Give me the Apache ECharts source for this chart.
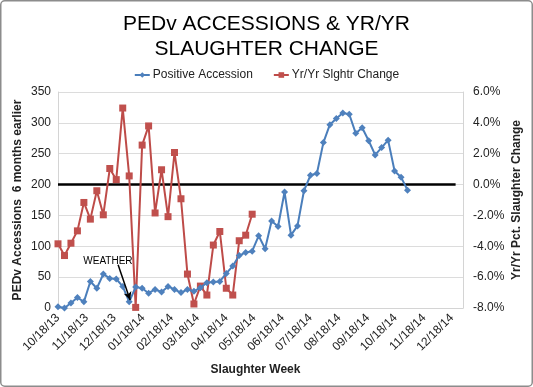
<!DOCTYPE html>
<html>
<head>
<meta charset="utf-8">
<script src="https://cdn.jsdelivr.net/npm/echarts@6/dist/echarts.min.js"></script>
<style>html,body{margin:0;padding:0;background:#fff;}#c{width:533px;height:387px;}</style>
</head>
<body>
<div id="c"></div>
<script>
const tickLabels = ['10/18/13','11/18/13','12/18/13','01/18/14','02/18/14','03/18/14','04/18/14','05/18/14','06/18/14','07/18/14','08/18/14','09/18/14','10/18/14','11/18/14','12/18/14'];
const weekDates = ['10/18/13','10/25/13','11/1/13','11/8/13','11/15/13','11/22/13','11/29/13','12/6/13','12/13/13','12/20/13','12/27/13',
  '1/3/14','1/10/14','1/17/14','1/24/14','1/31/14','2/7/14','2/14/14','2/21/14','2/28/14','3/7/14','3/14/14','3/21/14','3/28/14',
  '4/4/14','4/11/14','4/18/14','4/25/14','5/2/14','5/9/14','5/16/14','5/23/14','5/30/14','6/6/14','6/13/14','6/20/14','6/27/14',
  '7/4/14','7/11/14','7/18/14','7/25/14','8/1/14','8/8/14','8/15/14','8/22/14','8/29/14','9/5/14','9/12/14','9/19/14','9/26/14',
  '10/3/14','10/10/14','10/17/14','10/24/14','10/31/14'];
const positiveAccession = [2,0,8,17,10,43,32,55,48,47,35,10,34,32,24,30,26,35,30,25,30,27,33,41,42,43,56,68,85,90,92,117,96,141,132,188,118,133,190,215,218,268,297,307,316,314,283,292,271,248,260,272,222,212,191];
const slghtrChange = [-3.84,-4.6,-3.8,-3.0,-1.16,-2.24,-0.4,-1.96,1.04,0.32,4.96,0.56,-7.96,2.56,3.8,-1.84,0.96,-2.08,2.08,-0.92,-5.8,-7.74,-6.58,-7.16,-3.92,-3.04,-6.72,-7.16,-3.64,-3.28,-1.92];
const zeroLineDates = ['10/18/13','12/22/14'];
const zeroLineValues = [0,0];
const xRange = ['10/18/13','12/30/14'];
const weatherLabel = {date:'12/11/13', value:76, text:'WEATHER'};
const weatherArrow = {from:['12/22/13',70], to:['1/4/14',13]};

function toTs(s){const p=s.split('/').map(Number);return Date.UTC(2000+p[2],p[0]-1,p[1]);}
const tickValues = tickLabels.map(toTs);
const FONT = 'Liberation Sans, Arial, sans-serif';

const chart = echarts.init(document.getElementById('c'));
chart.setOption({
  animation:false,
  backgroundColor:'#fff',
  textStyle:{fontFamily:FONT},
  title:{
    text:'PEDv ACCESSIONS & YR/YR\nSLAUGHTER CHANGE',
    left:'center', top:7,
    textStyle:{fontFamily:FONT,fontSize:21,lineHeight:25,fontWeight:'normal',color:'#000'}
  },
  legend:{
    data:['Positive Accession','Yr/Yr Slghtr Change'],
    top:64, left:'center', itemWidth:15, itemHeight:7, itemGap:20,
    textStyle:{fontFamily:FONT,fontSize:12,color:'#222',padding:[0,0,0,-2]}
  },
  graphic:[{type:'rect',shape:{x:0.75,y:0.75,width:531.5,height:385.5,r:4},style:{fill:'none',stroke:'#8c8c8c',lineWidth:1.5},silent:true}],
  grid:{left:58,right:70,top:92,bottom:79,containLabel:false},
  xAxis:{
    type:'value', min:toTs(xRange[0]), max:toTs(xRange[1]),
    name:'Slaughter Week', nameLocation:'middle', nameGap:56, nameMoveOverlap:false,
    nameTextStyle:{fontFamily:FONT,fontSize:12,fontWeight:'bold',color:'#222',padding:[0,10,0,0]},
    axisLine:{show:true,lineStyle:{color:'#d4d4d4',width:1}},
    axisTick:{show:false},
    splitLine:{show:false},
    axisLabel:{customValues:tickValues,rotate:45,margin:8,fontSize:12,color:'#222',fontFamily:FONT,
      formatter:function(v){const i=tickValues.indexOf(v);return i>=0?tickLabels[i]:'';}}
  },
  yAxis:[{
    type:'value', min:0, max:350, interval:50, position:'left',
    name:'PEDv Accessions  6 months earlier', nameLocation:'middle', nameGap:34, nameRotate:90, nameMoveOverlap:false,
    nameTextStyle:{fontFamily:FONT,fontSize:12,fontWeight:'bold',color:'#222'},
    axisLine:{show:true,lineStyle:{color:'#d4d4d4'}},
    axisTick:{show:false},
    splitLine:{show:true,lineStyle:{color:'#dcdcdc',width:1}},
    axisLabel:{fontSize:12,color:'#222',margin:7,fontFamily:FONT}
  },{
    type:'value', min:-8, max:6, interval:2, position:'right',
    name:'Yr/Yr Pct. Slaughter Change', nameLocation:'middle', nameGap:48, nameRotate:90, nameMoveOverlap:false,
    nameTextStyle:{fontFamily:FONT,fontSize:12,fontWeight:'bold',color:'#222'},
    axisLine:{show:true,lineStyle:{color:'#d4d4d4'}},
    axisTick:{show:false},
    splitLine:{show:false},
    axisLabel:{fontSize:12,color:'#222',margin:10,fontFamily:FONT,formatter:function(v){return v.toFixed(1)+'%';}}
  }],
  series:[{
    name:'Zero', type:'line', yAxisIndex:1, symbol:'none', silent:true,
    data:zeroLineDates.map(function(d,i){return [toTs(d),zeroLineValues[i]];}),
    lineStyle:{color:'#000',width:2.5}, z:1
  },{
    name:'Positive Accession', type:'line', yAxisIndex:0,
    data:weekDates.map(function(d,i){return [toTs(d),positiveAccession[i]];}),
    symbol:'diamond', symbolSize:7,
    lineStyle:{color:'#4a7ebb',width:2}, itemStyle:{color:'#4f81bd'}, z:3,
    markPoint:{symbol:'circle',symbolSize:1,itemStyle:{color:'rgba(0,0,0,0)'},
      label:{show:true,position:'inside',formatter:weatherLabel.text,color:'#000',fontSize:10,fontFamily:FONT},
      data:[{coord:[toTs(weatherLabel.date),weatherLabel.value]}]},
    markLine:{silent:true,symbol:['none','arrow'],symbolSize:[6,8],
      lineStyle:{color:'#000',width:1.5,type:'solid'},label:{show:false},
      data:[[{coord:[toTs(weatherArrow.from[0]),weatherArrow.from[1]]},{coord:[toTs(weatherArrow.to[0]),weatherArrow.to[1]]}]]}
  },{
    name:'Yr/Yr Slghtr Change', type:'line', yAxisIndex:1,
    data:slghtrChange.map(function(v,i){return [toTs(weekDates[i]),v];}),
    symbol:'rect', symbolSize:7,
    lineStyle:{color:'#be4b48',width:2}, itemStyle:{color:'#c0504d'}, z:2
  }]
});
</script>
</body>
</html>
